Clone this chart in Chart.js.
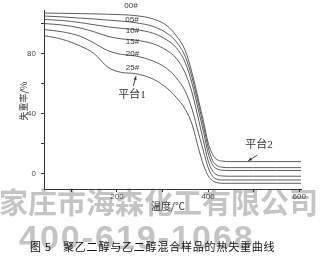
<!DOCTYPE html>
<html lang="zh">
<head>
  <meta charset="UTF-8"/>
  <title>热失重曲线</title>
  <style>
    body { margin: 0; background: #fff; }
    #chart { display: block; }
  </style>
</head>
<body>
  <canvas id="chart" width="323" height="261"></canvas>

  <script src="https://cdn.jsdelivr.net/npm/chart.js"></script>
  <script>
  // temperature points (°C) shared by all curves
  const temps = [40, 80, 120, 150, 180, 210, 240, 280, 310, 330, 350, 365, 380, 390, 400, 410, 420, 430, 450, 500, 550, 604];

  // weight-loss curves (%)
  const s00 = [107, 106.8, 106.6, 106.4, 106.2, 105.9, 105.3, 103, 98.5, 92, 82, 67, 48, 35, 21, 13, 9.5, 8.6, 8.2, 8.2, 8.2, 8.2];
  const s05 = [105, 104.4, 103.6, 103, 102.3, 101.6, 100.6, 98, 93.5, 88, 78, 64, 45, 32, 18, 9, 5.5, 4.5, 4.2, 4.2, 4.2, 4.2];
  const s10 = [102.7, 102, 100.6, 99.2, 97.8, 96.8, 96, 93.5, 89, 84, 74, 60, 41, 28, 14, 6, 3.3, 2.5, 2.3, 2.3, 2.3, 2.3];
  const s15 = [100, 99, 97, 94.5, 91.5, 89.8, 89, 86.5, 82, 77, 67, 54, 35, 22, 9, 2, -0.7, -1.3, -1.5, -1.5, -1.5, -1.5];
  const s20 = [96, 94.5, 91.5, 87, 82, 79.5, 78.5, 75, 70, 64, 55, 43, 26, 15, 4.5, -1.5, -3.6, -4, -4, -4, -4, -4];
  const s25 = [92, 89.5, 85, 80, 71, 67.5, 66.7, 63, 57, 51, 43, 33, 16, 6, -1, -4.5, -5.8, -6.2, -6.2, -6.2, -6.2, -6.2];

  const seriesNames = ['00#', '05#', '10#', '15#', '20#', '25#'];
  const seriesData = [s00, s05, s10, s15, s20, s25];

  // curve label anchors in data units [T, value]
  const labelPos = [[231, 112], [233, 102.7], [234, 95.3], [234, 88], [234, 80], [234, 70.7]];

  const xTicks = [100, 200, 300, 400, 500, 600];
  const xLabels = [200, 400, 600];
  const yTicks = [0, 20, 40, 60, 80, 100];
  const yLabels = [0, 40, 80];

  const lineColor = '#4a4a4a';

  const datasets = seriesNames.map((n, i) => ({
    label: n,
    data: temps.map((t, j) => ({ x: t, y: seriesData[i][j] })),
    borderColor: lineColor,
    borderWidth: 0.9,
    pointRadius: 0,
    fill: false,
    cubicInterpolationMode: 'monotone'
  }));

  function arrow(ctx, x1, y1, x2, y2) {
    ctx.beginPath();
    ctx.moveTo(x1, y1);
    ctx.lineTo(x2, y2);
    ctx.stroke();
    const a = Math.atan2(y2 - y1, x2 - x1);
    ctx.beginPath();
    ctx.moveTo(x2, y2);
    ctx.lineTo(x2 - 4 * Math.cos(a - 0.4), y2 - 4 * Math.sin(a - 0.4));
    ctx.lineTo(x2 - 4 * Math.cos(a + 0.4), y2 - 4 * Math.sin(a + 0.4));
    ctx.closePath();
    ctx.fill();
  }

  const watermark = {
    id: 'watermark',
    beforeDraw(chart) {
      const ctx = chart.ctx;
      ctx.save();
      ctx.fillStyle = '#c4c4c4';
      ctx.textBaseline = 'middle';
      ctx.textAlign = 'left';
      ctx.font = 'bold 29px "Noto Sans CJK SC"';
      ctx.letterSpacing = '0px';
      ctx.fillText('家庄市海森化工有限公司', -1, 203);
      ctx.font = 'bold 34px "Liberation Sans"';
      ctx.letterSpacing = '2px';
      ctx.fillText('400-619-1068', 19, 240);
      ctx.restore();
    }
  };

  const annotations = {
    id: 'annotations',
    afterDraw(chart) {
      const ctx = chart.ctx;
      const xs = chart.scales.x, ys = chart.scales.y;
      const px = v => xs.getPixelForValue(v);
      const py = v => ys.getPixelForValue(v);
      ctx.save();
      ctx.fillStyle = '#333';
      ctx.textAlign = 'center';
      ctx.textBaseline = 'middle';

      // curve labels
      ctx.font = '8px "Liberation Sans"';
      seriesNames.forEach((n, i) => {
        ctx.fillText(n, px(labelPos[i][0]), py(labelPos[i][1]));
      });

      // plateau labels
      ctx.font = '11px "Liberation Serif", "Noto Sans CJK SC"';
      ctx.fillText('平台1', px(233), py(52.7));
      ctx.fillText('平台2', px(512), py(19.3));
      ctx.strokeStyle = '#333';
      ctx.lineWidth = 0.9;
      arrow(ctx, px(236), py(58.5), px(242), py(65));
      arrow(ctx, px(508), py(12.5), px(488), py(8.7));

      // axis titles
      ctx.font = '10px "Noto Sans CJK SC"';
      ctx.fillText('温度/℃', 168, 206);
      ctx.save();
      ctx.translate(24, 101);
      ctx.rotate(-Math.PI / 2);
      ctx.font = '9px "Noto Sans CJK SC"';
      ctx.fillText('失重率/%', 0, 0);
      ctx.restore();

      // caption
      ctx.fillStyle = '#111';
      ctx.textAlign = 'left';
      ctx.font = '11px "Noto Sans CJK SC"';
      ctx.letterSpacing = '0.8px';
      ctx.fillText('图 5', 30, 247);
      ctx.fillText('聚乙二醇与乙二醇混合样品的热失重曲线', 63, 247);
      ctx.restore();
    }
  };

  new Chart(document.getElementById('chart'), {
    type: 'line',
    data: { datasets },
    plugins: [watermark, annotations],
    options: {
      responsive: false,
      animation: false,
      layout: { padding: { left: 0, right: 22, top: 10, bottom: 0 } },
      plugins: { legend: { display: false }, tooltip: { enabled: false } },
      scales: {
        x: {
          type: 'linear',
          min: 40,
          max: 604,
          afterBuildTicks: s => { s.ticks = xTicks.map(v => ({ value: v })); },
          afterFit: s => { s.height = 72; },
          ticks: {
            autoSkip: false,
            maxRotation: 0,
            padding: 0,
            color: '#444',
            font: { family: 'Liberation Sans', size: 8 },
            callback: v => xLabels.includes(v) ? String(v) : ''
          },
          grid: { drawOnChartArea: false, drawTicks: true, tickLength: 3, color: '#333' },
          border: { display: true, color: '#333', width: 1 }
        },
        y: {
          min: -10,
          max: 109,
          afterBuildTicks: s => { s.ticks = yTicks.map(v => ({ value: v })); },
          afterFit: s => { s.width = 44; },
          ticks: {
            autoSkip: false,
            padding: 5,
            color: '#444',
            font: { family: 'Liberation Sans', size: 8 },
            callback: v => yLabels.includes(v) ? String(v) : ''
          },
          grid: { drawOnChartArea: false, drawTicks: true, tickLength: 3, color: '#333' },
          border: { display: true, color: '#333', width: 1 }
        }
      }
    }
  });
  </script>
</body>
</html>
